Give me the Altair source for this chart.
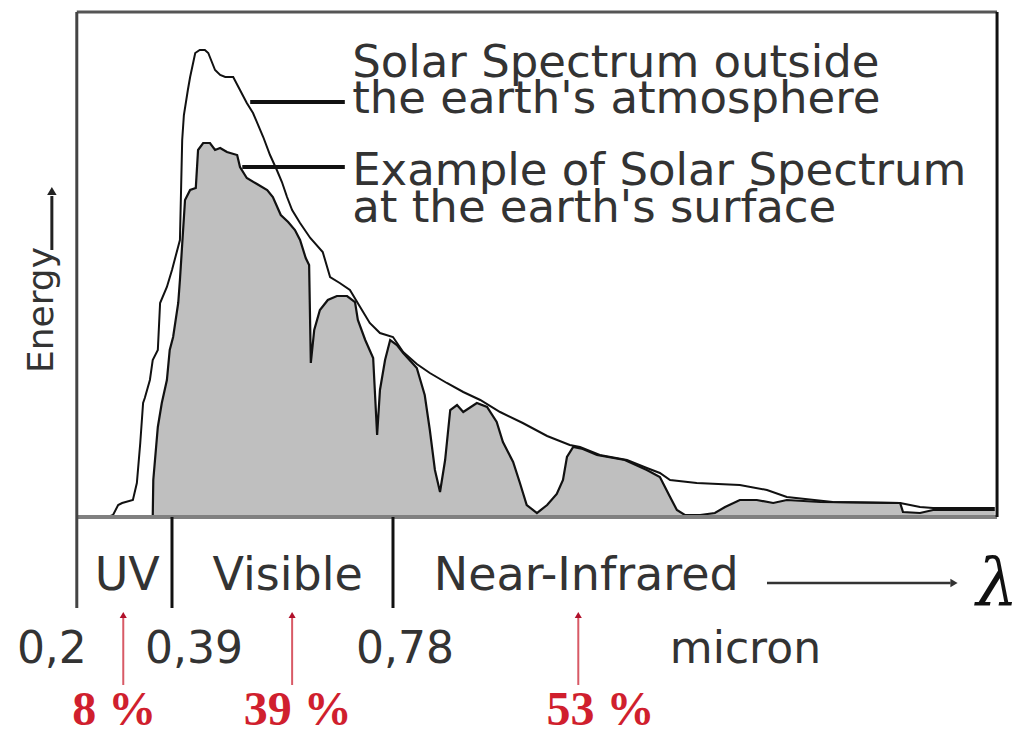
import altair as alt
import pandas as pd

# ---- data (wavelength in nm, energy in arbitrary units) ----
outer_wl = [277, 286, 295, 302, 321, 328, 334, 339, 342, 351, 356, 365, 369, 381, 390, 397, 404, 408,
            411, 418, 422, 431, 439, 448, 454, 466, 475, 484, 498, 510, 522, 533, 551, 563, 575, 584,
            593, 602, 616, 634, 656, 669, 686, 704, 722, 739, 757, 780, 798, 822, 845, 875, 904, 934,
            969, 1009, 1052, 1092, 1110, 1145, 1193, 1228, 1251, 1269, 1316, 1392, 1440, 1475, 1556,
            1675, 1710, 1733, 1842]
outer_en = [0, 2, 12, 14, 17, 34, 74, 114, 119, 137, 157, 167, 214, 230, 247, 262, 277, 377,
            402, 427, 440, 464, 467, 467, 464, 447, 442, 440, 440, 427, 414, 404, 380, 362, 347, 335,
            320, 307, 294, 279, 265, 240, 234, 227, 210, 194, 184, 180, 165, 153, 144, 134, 125, 117,
            105, 94, 81, 72, 70, 62, 57, 49, 44, 37, 34, 32, 27, 20, 15,
            14, 10, 9, 9]

surface_wl = [351, 356, 357, 365, 372, 381, 386, 392, 401, 404, 413, 422, 432, 436, 445, 457, 466, 475,
              487, 505, 510, 522, 540, 558, 568, 582, 595, 607, 616, 626, 632, 635, 641, 651, 665, 681,
              699, 713, 718, 731, 745, 752, 757, 766, 775, 787, 798, 822, 836, 845, 854, 863, 872, 881,
              893, 904, 928, 946, 963, 974, 992, 1004, 1016, 1034, 1052, 1069, 1080, 1087, 1098, 1115,
              1140, 1189, 1228, 1251, 1269, 1281, 1295, 1322, 1348, 1366, 1392, 1422, 1451, 1475, 1534,
              1675, 1680, 1710, 1733, 1842]
surface_en = [0, 0, 37, 90, 114, 137, 167, 180, 214, 237, 317, 327, 329, 367, 374, 374, 367, 369,
              365, 362, 350, 339, 333, 327, 320, 302, 295, 287, 277, 259, 252, 154, 187, 207, 217, 221,
              221, 215, 197, 177, 159, 82, 127, 157, 177, 172, 164, 149, 122, 87, 47, 25, 57, 107,
              112, 105, 114, 110, 95, 75, 55, 34, 12, 4, 12, 23, 37, 60, 70, 68,
              62, 57, 47, 40, 20, 7, 2, 2, 4, 10, 17, 17, 14, 17, 15,
              14, 5, 4, 7, 7]

band_labels = ["UV", "Visible", "Near-Infrared"]
band_centers = [311, 594, 1121]
band_edges = [390, 780]

tick_labels = ["0,2", "0,39", "0,78", "micron"]
tick_pos = [178, 429, 801, 1402]

share_labels = ["8 %", "39 %", "53 %"]
share_text_pos = [288, 612, 1146]
share_arrow_pos = [304, 602, 1107]

legend_lines = ["Solar Spectrum outside", "the earth's atmosphere",
                "Example of Solar Spectrum", "at the earth's surface"]
legend_en = [440, 404, 332, 295]

# ---- scales ----
XS = alt.Scale(domain=[100.6, 1881.2], nice=False, zero=False)
YS = alt.Scale(domain=[-220, 509], nice=False, zero=False)


def X(f):
    return alt.X(f, type="quantitative", scale=XS, axis=None)


def Y(f):
    return alt.Y(f, type="quantitative", scale=YS, axis=None)


outer_df = pd.DataFrame({"wl": outer_wl, "en": outer_en, "i": range(len(outer_wl))})
surf_df = pd.DataFrame({"wl": surface_wl, "en": surface_en,
                        "base": [0] * len(surface_wl), "i": range(len(surface_wl))})

surface_area = alt.Chart(surf_df).mark_area(fill="#bfbfbf", interpolate="linear").encode(
    x=X("wl"), y=Y("en"), y2=alt.Y2("base"))
surface_line = alt.Chart(surf_df).mark_line(color="#111", strokeWidth=2.2).encode(
    x=X("wl"), y=Y("en"), order=alt.Order("i:Q"))
outer_line = alt.Chart(outer_df).mark_line(color="#111", strokeWidth=2).encode(
    x=X("wl"), y=Y("en"), order=alt.Order("i:Q"))

x_lo, x_hi, top, bottom = 222, 1846, 505, -91


def rule(df, color, width):
    return alt.Chart(df).mark_rule(color=color, strokeWidth=width).encode(
        x=X("x"), x2="x2:Q", y=Y("y"), y2="y2:Q")


frame_top = rule(pd.DataFrame({"x": [x_lo], "x2": [x_hi], "y": [top], "y2": [top]}), "#555", 3)
frame_left = rule(pd.DataFrame({"x": [x_lo], "x2": [x_lo], "y": [top], "y2": [bottom]}), "#444", 3)
frame_right = rule(pd.DataFrame({"x": [x_hi], "x2": [x_hi], "y": [top], "y2": [0]}), "#111", 3)
baseline = rule(pd.DataFrame({"x": [x_lo], "x2": [x_hi], "y": [0], "y2": [0]}), "#808080", 4)
dividers = rule(pd.DataFrame({"x": band_edges, "x2": band_edges, "y": [0, 0], "y2": [bottom, bottom]}), "#111", 3)

leaders = rule(pd.DataFrame({"x": [528, 514], "x2": [695, 695], "y": [415, 350], "y2": [415, 350]}), "#111", 4)

FONT = "DejaVu Sans"
TXT = "#333333"

legend_text = alt.Chart(pd.DataFrame({"t": legend_lines, "y": legend_en, "x": [708] * 4})).mark_text(
    font=FONT, fontSize=45, color=TXT, align="left", baseline="alphabetic").encode(
    x=X("x"), y=Y("y"), text="t:N")

band_text = alt.Chart(pd.DataFrame({"t": band_labels, "x": band_centers, "y": [-73] * 3})).mark_text(
    font=FONT, fontSize=46, color=TXT, align="center", baseline="alphabetic").encode(
    x=X("x"), y=Y("y"), text="t:N")

tick_text = alt.Chart(pd.DataFrame({"t": tick_labels, "x": tick_pos, "y": [-146] * 4})).mark_text(
    font=FONT, fontSize=44, color=TXT, align="center", baseline="alphabetic").encode(
    x=X("x"), y=Y("y"), text="t:N")

# wavelength arrow and lambda
lam_arrow = rule(pd.DataFrame({"x": [1440], "x2": [1764], "y": [-66], "y2": [-66]}), "#333", 2.5)
lam_head = alt.Chart(pd.DataFrame({"x": [1770], "y": [-66]})).mark_point(
    shape="triangle-right", filled=True, color="#333", size=70, opacity=1).encode(x=X("x"), y=Y("y"))
lam_text = alt.Chart(pd.DataFrame({"t": ["λ"], "x": [1846], "y": [-88]})).mark_text(
    font="DejaVu Serif", fontStyle="italic", fontSize=66, color="#111", align="center",
    baseline="alphabetic").encode(x=X("x"), y=Y("y"), text="t:N")

# energy label
energy_text = alt.Chart(pd.DataFrame({"t": ["Energy"], "x": [161], "y": [207]})).mark_text(
    font=FONT, fontSize=36, color=TXT, angle=270, align="center", baseline="middle").encode(
    x=X("x"), y=Y("y"), text="t:N")
energy_arrow = rule(pd.DataFrame({"x": [178], "x2": [178], "y": [267], "y2": [321]}), "#222", 3)
energy_head = alt.Chart(pd.DataFrame({"x": [178], "y": [326]})).mark_point(
    shape="triangle-up", filled=True, color="#222", size=90, opacity=1).encode(x=X("x"), y=Y("y"))

# red share arrows and labels
RED = "#d01f2e"
share_rules = rule(pd.DataFrame({"x": share_arrow_pos, "x2": share_arrow_pos,
                                 "y": [-168] * 3, "y2": [-100] * 3}), "#d85a66", 2)
share_heads = alt.Chart(pd.DataFrame({"x": share_arrow_pos, "y": [-98] * 3})).mark_point(
    shape="triangle-up", filled=True, color="#b0102a", size=50, opacity=1).encode(x=X("x"), y=Y("y"))
share_text = alt.Chart(pd.DataFrame({"t": share_labels, "x": share_text_pos, "y": [-208] * 3})).mark_text(
    font="Liberation Serif", fontWeight="bold", fontSize=48, color=RED, align="center",
    baseline="alphabetic").encode(x=X("x"), y=Y("y"), text="t:N")

chart = alt.layer(
    surface_area, surface_line, outer_line,
    baseline, frame_top, frame_left, frame_right, dividers, leaders,
    legend_text, band_text, tick_text,
    lam_arrow, lam_head, lam_text,
    energy_text, energy_arrow, energy_head,
    share_rules, share_heads, share_text,
).properties(
    width=1009, height=729, padding=0, background="white",
    autosize=alt.AutoSizeParams(type="none"),
).configure_view(stroke=None)

chart.save("out.html", embed_options={"renderer": "svg", "actions": False})
